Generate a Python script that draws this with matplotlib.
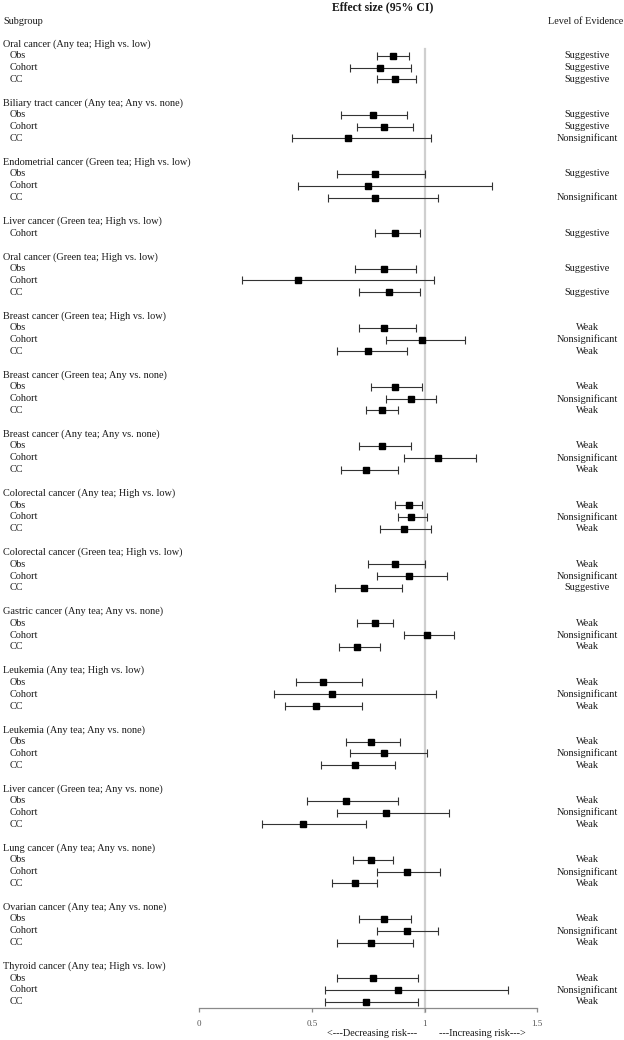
import matplotlib
matplotlib.use("Agg")
import matplotlib.pyplot as plt
import matplotlib.transforms as mtransforms

# ---------------- data ----------------
groups = [
    "Oral cancer (Any tea; High vs. low)",
    "Biliary tract cancer (Any tea; Any vs. none)",
    "Endometrial cancer (Green tea; High vs. low)",
    "Liver cancer (Green tea; High vs. low)",
    "Oral cancer (Green tea; High vs. low)",
    "Breast cancer (Green tea; High vs. low)",
    "Breast cancer (Green tea; Any vs. none)",
    "Breast cancer (Any tea; Any vs. none)",
    "Colorectal cancer (Any tea; High vs. low)",
    "Colorectal cancer (Green tea; High vs. low)",
    "Gastric cancer (Any tea; Any vs. none)",
    "Leukemia (Any tea; High vs. low)",
    "Leukemia (Any tea; Any vs. none)",
    "Liver cancer (Green tea; Any vs. none)",
    "Lung cancer (Any tea; Any vs. none)",
    "Ovarian cancer (Any tea; Any vs. none)",
    "Thyroid cancer (Any tea; High vs. low)",
]

row_group = [0, 0, 0, 1, 1, 1, 2, 2, 2, 3, 4, 4, 4, 5, 5, 5, 6, 6, 6, 7, 7, 7,
             8, 8, 8, 9, 9, 9, 10, 10, 10, 11, 11, 11, 12, 12, 12, 13, 13, 13,
             14, 14, 14, 15, 15, 15, 16, 16, 16]

row_design = (["Obs", "Cohort", "CC"] * 3 + ["Cohort"] + ["Obs", "Cohort", "CC"] * 13)

estimate = [0.86, 0.80, 0.87,
            0.77, 0.82, 0.66,
            0.78, 0.75, 0.78,
            0.87,
            0.82, 0.44, 0.84,
            0.82, 0.99, 0.75,
            0.87, 0.94, 0.81,
            0.81, 1.06, 0.74,
            0.93, 0.94, 0.91,
            0.87, 0.93, 0.73,
            0.78, 1.01, 0.70,
            0.55, 0.59, 0.52,
            0.76, 0.82, 0.69,
            0.65, 0.83, 0.46,
            0.76, 0.92, 0.69,
            0.82, 0.92, 0.76,
            0.77, 0.88, 0.74]

ci_low = [0.79, 0.67, 0.79,
          0.63, 0.70, 0.41,
          0.61, 0.44, 0.57,
          0.78,
          0.69, 0.19, 0.71,
          0.71, 0.83, 0.61,
          0.76, 0.83, 0.74,
          0.71, 0.91, 0.63,
          0.87, 0.88, 0.80,
          0.75, 0.79, 0.60,
          0.70, 0.91, 0.62,
          0.43, 0.33, 0.38,
          0.65, 0.67, 0.54,
          0.48, 0.61, 0.28,
          0.68, 0.79, 0.59,
          0.71, 0.79, 0.61,
          0.61, 0.56, 0.56]

ci_high = [0.93, 0.94, 0.96,
           0.92, 0.95, 1.03,
           1.00, 1.30, 1.06,
           0.98,
           0.96, 1.04, 0.98,
           0.96, 1.18, 0.92,
           0.99, 1.05, 0.88,
           0.94, 1.23, 0.88,
           0.99, 1.01, 1.03,
           1.00, 1.10, 0.90,
           0.86, 1.13, 0.80,
           0.72, 1.05, 0.72,
           0.89, 1.01, 0.87,
           0.88, 1.11, 0.74,
           0.86, 1.07, 0.79,
           0.94, 1.06, 0.95,
           0.97, 1.37, 0.97]

evidence = ["Suggestive", "Suggestive", "Suggestive",
            "Suggestive", "Suggestive", "Nonsignificant",
            "Suggestive", "", "Nonsignificant",
            "Suggestive",
            "Suggestive", "", "Suggestive",
            "Weak", "Nonsignificant", "Weak",
            "Weak", "Nonsignificant", "Weak",
            "Weak", "Nonsignificant", "Weak",
            "Weak", "Nonsignificant", "Weak",
            "Weak", "Nonsignificant", "Suggestive",
            "Weak", "Nonsignificant", "Weak",
            "Weak", "Nonsignificant", "Weak",
            "Weak", "Nonsignificant", "Weak",
            "Weak", "Nonsignificant", "Weak",
            "Weak", "Nonsignificant", "Weak",
            "Weak", "Nonsignificant", "Weak",
            "Weak", "Nonsignificant", "Weak"]

x_ticks = [0, 0.5, 1, 1.5]
x_tick_labels = ["0", "0.5", "1", "1.5"]

# ---------------- layout ----------------
plt.rcParams["font.family"] = ["Liberation Serif", "DejaVu Serif"]
W, H = 624, 1040
fig = plt.figure(figsize=(W / 100, H / 100), dpi=100)

x0_px, x1_px = 199.3, 537.3
axis_px = 1007.7
row0_px, row_step = 43.9, 11.825

ax = fig.add_axes([x0_px / W, 1 - axis_px / H, (x1_px - x0_px) / W, axis_px / H])
ax.set_xlim(0, 1.5)
ax.set_ylim((axis_px - row0_px) / row_step, -row0_px / row_step)

# row positions derived from the group structure
group_pos = {}
row_pos = []
r = 0
prev = None
for g in row_group:
    if g != prev:
        if prev is not None:
            r += 1  # blank spacer
        group_pos[g] = r
        r += 1
        prev = g
    row_pos.append(r)
    r += 1

text_col = "#1a1a1a"
fs = 7.4

# reference line
ax.plot([1, 1], [row_pos[0] - 0.55, (1012 - row0_px) / row_step], color="#cfcfcf",
        lw=1.6, clip_on=False, zorder=1)

# error bars
ax.errorbar(estimate, row_pos,
            xerr=[[e - l for e, l in zip(estimate, ci_low)],
                  [h - e for e, h in zip(estimate, ci_high)]],
            fmt="s", color="black", ms=4.4, ecolor="#333333", elinewidth=0.8,
            capsize=3.0, capthick=0.8, zorder=3, clip_on=False)

tr_left = mtransforms.blended_transform_factory(fig.transFigure, ax.transData)

for g, lab in enumerate(groups):
    ax.text(3 / W, group_pos[g], lab, transform=tr_left, ha="left", va="center",
            fontsize=fs, color=text_col, clip_on=False)

for y, d, ev in zip(row_pos, row_design, evidence):
    ax.text(10 / W, y, d, transform=tr_left, ha="left", va="center",
            fontsize=fs, color=text_col, clip_on=False)
    if ev:
        ax.text(587 / W, y, ev, transform=tr_left, ha="center", va="center",
                fontsize=fs, color=text_col, clip_on=False)

# headers
fig.text(383 / W, 1 - 7 / H, "Effect size (95% CI)", ha="center", va="center",
         fontsize=8.5, fontweight="bold", color=text_col)
fig.text(3 / W, 1 - 21.5 / H, "Subgroup", ha="left", va="center",
         fontsize=fs, color=text_col)
fig.text(585.5 / W, 1 - 21.5 / H, "Level of Evidence", ha="center", va="center",
         fontsize=fs, color=text_col)

# axis styling
for s in ["top", "right", "left"]:
    ax.spines[s].set_visible(False)
ax.spines["bottom"].set_color("#8a8a8a")
ax.spines["bottom"].set_linewidth(0.9)
ax.set_yticks([])
ax.set_xticks(x_ticks)
ax.set_xticklabels(x_tick_labels)
ax.tick_params(axis="x", direction="out", length=3.2, width=0.9, color="#8a8a8a",
               labelsize=6.5, labelcolor="#555555", pad=6)
ax.patch.set_visible(False)

fig.text((x0_px + 0.966 * (x1_px - x0_px) / 1.5) / W, 1 - 1033 / H,
         "<---Decreasing risk---", ha="right", va="center", fontsize=fs, color=text_col)
fig.text((x0_px + 1.064 * (x1_px - x0_px) / 1.5) / W, 1 - 1033 / H,
         "---Increasing risk--->", ha="left", va="center", fontsize=fs, color=text_col)

fig.savefig("out.png", dpi=100)
